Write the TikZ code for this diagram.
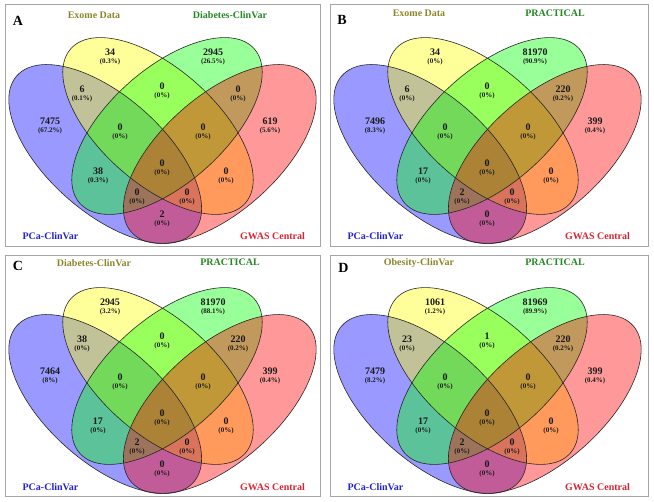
\documentclass[tikz,border=0pt]{standalone}
\usepackage{fontspec}
\setmainfont{Liberation Serif}

\definecolor{vblue}{RGB}{0,0,255}
\definecolor{vyellow}{RGB}{255,255,0}
\definecolor{vgreen}{RGB}{0,255,0}
\definecolor{vred}{RGB}{255,0,0}
\definecolor{lblolive}{RGB}{140,132,40}
\definecolor{lblgreen}{RGB}{35,135,35}
\definecolor{lblblue}{RGB}{35,35,205}
\definecolor{lblred}{RGB}{220,35,50}

\tikzset{every picture/.style={line width=0.75pt}}
\tikzset{
  pcaset/.style={shift={(105.2,154)},rotate=41.5},
  topleftset/.style={shift={(158,126)},rotate=41.5},
  toprightset/.style={shift={(167,126)},rotate=-41.5},
  gwasset/.style={shift={(219.8,154)},rotate=-41.5},
  tint/.style={fill=#1,fill opacity=0.4},
  rim/.style={draw=black!85,line width=0.6pt},
  panelframe/.style={draw=black!35,line width=1pt},
  cnt/.style={inner sep=0pt,align=center,text=black!90,font=\fontsize{10}{8}\selectfont\bfseries},
  setname/.style={inner sep=0pt,font=\fontsize{10}{10}\selectfont\bfseries,text=#1},
  panelletter/.style={inner sep=0pt,font=\fontsize{14}{14}\selectfont\bfseries}
}
\newcommand{\pct}[1]{{\fontsize{7}{7}\selectfont(#1\%)}}

\begin{document}
\begin{tikzpicture}[x=1pt,y=1pt,yscale=-1]
\useasboundingbox (0,0) rectangle (654,502);

%%%%%%%%%%%%%%%%%%%%%%%% Panel A
\begin{scope}
\draw[panelframe] (5,5) rectangle (320,247);
%Shape: Ellipse [id:pca]
\fill[tint=vblue,pcaset] (0,0) ellipse (118 and 58);
%Shape: Ellipse [id:exome]
\fill[tint=vyellow,topleftset] (0,0) ellipse (116.5 and 57.5);
%Shape: Ellipse [id:diabetes]
\fill[tint=vgreen,toprightset] (0,0) ellipse (116.5 and 57.5);
%Shape: Ellipse [id:gwas]
\fill[tint=vred,gwasset] (0,0) ellipse (118 and 58);
\draw[rim,pcaset] (0,0) ellipse (118 and 58);
\draw[rim,topleftset] (0,0) ellipse (116.5 and 57.5);
\draw[rim,toprightset] (0,0) ellipse (116.5 and 57.5);
\draw[rim,gwasset] (0,0) ellipse (118 and 58);

% Text Node
\node[panelletter] (A-tag) at (18,21) {A};
\node[setname=lblolive] (A-lt) at (94,15) {Exome Data};
\node[setname=lblgreen] (A-rt) at (230,15) {Diabetes-ClinVar};
\node[setname=lblblue] (A-lb) at (50.5,236) {PCa-ClinVar};
\node[setname=lblred] (A-rb) at (272.5,236) {GWAS Central};
% Counts
\node[cnt] (A-y) at (110,57) {34\\\pct{0.3}};
\node[cnt] (A-g) at (213,57) {2945\\\pct{26.5}};
\node[cnt] (A-by) at (82,94) {6\\\pct{0.1}};
\node[cnt] (A-yg) at (162,91) {0\\\pct{0}};
\node[cnt] (A-gr) at (238,94) {0\\\pct{0}};
\node[cnt] (A-b) at (50,126) {7475\\\pct{67.2}};
\node[cnt] (A-r) at (270,126) {619\\\pct{5.6}};
\node[cnt] (A-byg) at (120,132) {0\\\pct{0}};
\node[cnt] (A-ygr) at (203,132) {0\\\pct{0}};
\node[cnt] (A-bygr) at (162,168) {0\\\pct{0}};
\node[cnt] (A-bg) at (98,176) {38\\\pct{0.3}};
\node[cnt] (A-yr) at (226,176) {0\\\pct{0}};
\node[cnt] (A-bgr) at (137,197) {0\\\pct{0}};
\node[cnt] (A-byr) at (187,197) {0\\\pct{0}};
\node[cnt] (A-br) at (162,219) {2\\\pct{0}};
\end{scope}

%%%%%%%%%%%%%%%%%%%%%%%% Panel B
\begin{scope}[shift={(325,0)}]
\draw[panelframe] (5.5,5) rectangle (323,247);
%Shape: Ellipse [id:pca]
\fill[tint=vblue,pcaset] (0,0) ellipse (118 and 58);
%Shape: Ellipse [id:exome]
\fill[tint=vyellow,topleftset] (0,0) ellipse (116.5 and 57.5);
%Shape: Ellipse [id:practical]
\fill[tint=vgreen,toprightset] (0,0) ellipse (116.5 and 57.5);
%Shape: Ellipse [id:gwas]
\fill[tint=vred,gwasset] (0,0) ellipse (118 and 58);
\draw[rim,pcaset] (0,0) ellipse (118 and 58);
\draw[rim,topleftset] (0,0) ellipse (116.5 and 57.5);
\draw[rim,toprightset] (0,0) ellipse (116.5 and 57.5);
\draw[rim,gwasset] (0,0) ellipse (118 and 58);

% Text Node
\node[panelletter] (B-tag) at (17,20) {B};
\node[setname=lblolive] (B-lt) at (94,13.5) {Exome Data};
\node[setname=lblgreen] (B-rt) at (230,13.5) {PRACTICAL};
\node[setname=lblblue] (B-lb) at (50.5,236) {PCa-ClinVar};
\node[setname=lblred] (B-rb) at (272.5,236) {GWAS Central};
% Counts
\node[cnt] (B-y) at (110,57) {34\\\pct{0}};
\node[cnt] (B-g) at (210,57) {81970\\\pct{90.9}};
\node[cnt] (B-by) at (82,94) {6\\\pct{0}};
\node[cnt] (B-yg) at (162,91) {0\\\pct{0}};
\node[cnt] (B-gr) at (238,94) {220\\\pct{0.2}};
\node[cnt] (B-b) at (50,126) {7496\\\pct{8.3}};
\node[cnt] (B-r) at (270,126) {399\\\pct{0.4}};
\node[cnt] (B-byg) at (120,132) {0\\\pct{0}};
\node[cnt] (B-ygr) at (203,132) {0\\\pct{0}};
\node[cnt] (B-bygr) at (162,168) {0\\\pct{0}};
\node[cnt] (B-bg) at (98,176) {17\\\pct{0}};
\node[cnt] (B-yr) at (226,176) {0\\\pct{0}};
\node[cnt] (B-bgr) at (137,197) {2\\\pct{0}};
\node[cnt] (B-byr) at (187,197) {0\\\pct{0}};
\node[cnt] (B-br) at (162,219) {0\\\pct{0}};
\end{scope}

%%%%%%%%%%%%%%%%%%%%%%%% Panel C
\begin{scope}[shift={(0,250)}]
\draw[panelframe] (5,6) rectangle (320,247);
%Shape: Ellipse [id:pca]
\fill[tint=vblue,pcaset] (0,0) ellipse (118 and 58);
%Shape: Ellipse [id:diabetes]
\fill[tint=vyellow,topleftset] (0,0) ellipse (116.5 and 57.5);
%Shape: Ellipse [id:practical]
\fill[tint=vgreen,toprightset] (0,0) ellipse (116.5 and 57.5);
%Shape: Ellipse [id:gwas]
\fill[tint=vred,gwasset] (0,0) ellipse (118 and 58);
\draw[rim,pcaset] (0,0) ellipse (118 and 58);
\draw[rim,topleftset] (0,0) ellipse (116.5 and 57.5);
\draw[rim,toprightset] (0,0) ellipse (116.5 and 57.5);
\draw[rim,gwasset] (0,0) ellipse (118 and 58);

% Text Node
\node[panelletter] (C-tag) at (18,16) {C};
\node[setname=lblolive] (C-lt) at (94,12.7) {Diabetes-ClinVar};
\node[setname=lblgreen] (C-rt) at (230,12.7) {PRACTICAL};
\node[setname=lblblue] (C-lb) at (50.5,237) {PCa-ClinVar};
\node[setname=lblred] (C-rb) at (272.5,237) {GWAS Central};
% Counts
\node[cnt] (C-y) at (110,57) {2945\\\pct{3.2}};
\node[cnt] (C-g) at (213,57) {81970\\\pct{88.1}};
\node[cnt] (C-by) at (82,94) {38\\\pct{0}};
\node[cnt] (C-yg) at (162,91) {0\\\pct{0}};
\node[cnt] (C-gr) at (238,94) {220\\\pct{0.2}};
\node[cnt] (C-b) at (50,126) {7464\\\pct{8}};
\node[cnt] (C-r) at (270,126) {399\\\pct{0.4}};
\node[cnt] (C-byg) at (120,132) {0\\\pct{0}};
\node[cnt] (C-ygr) at (203,132) {0\\\pct{0}};
\node[cnt] (C-bygr) at (162,168) {0\\\pct{0}};
\node[cnt] (C-bg) at (98,176) {17\\\pct{0}};
\node[cnt] (C-yr) at (226,176) {0\\\pct{0}};
\node[cnt] (C-bgr) at (137,197) {2\\\pct{0}};
\node[cnt] (C-byr) at (187,197) {0\\\pct{0}};
\node[cnt] (C-br) at (162,219) {0\\\pct{0}};
\end{scope}

%%%%%%%%%%%%%%%%%%%%%%%% Panel D
\begin{scope}[shift={(325,250)}]
\draw[panelframe] (5.5,6) rectangle (323,247);
%Shape: Ellipse [id:pca]
\fill[tint=vblue,pcaset] (0,0) ellipse (118 and 58);
%Shape: Ellipse [id:obesity]
\fill[tint=vyellow,topleftset] (0,0) ellipse (116.5 and 57.5);
%Shape: Ellipse [id:practical]
\fill[tint=vgreen,toprightset] (0,0) ellipse (116.5 and 57.5);
%Shape: Ellipse [id:gwas]
\fill[tint=vred,gwasset] (0,0) ellipse (118 and 58);
\draw[rim,pcaset] (0,0) ellipse (118 and 58);
\draw[rim,topleftset] (0,0) ellipse (116.5 and 57.5);
\draw[rim,toprightset] (0,0) ellipse (116.5 and 57.5);
\draw[rim,gwasset] (0,0) ellipse (118 and 58);

% Text Node
\node[panelletter] (D-tag) at (18.5,18) {D};
\node[setname=lblolive] (D-lt) at (94,12.7) {Obesity-ClinVar};
\node[setname=lblgreen] (D-rt) at (230,12.7) {PRACTICAL};
\node[setname=lblblue] (D-lb) at (50.5,237) {PCa-ClinVar};
\node[setname=lblred] (D-rb) at (272.5,237) {GWAS Central};
% Counts
\node[cnt] (D-y) at (110,57) {1061\\\pct{1.2}};
\node[cnt] (D-g) at (210,57) {81969\\\pct{89.9}};
\node[cnt] (D-by) at (82,94) {23\\\pct{0}};
\node[cnt] (D-yg) at (162,91) {1\\\pct{0}};
\node[cnt] (D-gr) at (238,94) {220\\\pct{0.2}};
\node[cnt] (D-b) at (50,126) {7479\\\pct{8.2}};
\node[cnt] (D-r) at (270,126) {399\\\pct{0.4}};
\node[cnt] (D-byg) at (120,132) {0\\\pct{0}};
\node[cnt] (D-ygr) at (203,132) {0\\\pct{0}};
\node[cnt] (D-bygr) at (162,168) {0\\\pct{0}};
\node[cnt] (D-bg) at (98,176) {17\\\pct{0}};
\node[cnt] (D-yr) at (226,176) {0\\\pct{0}};
\node[cnt] (D-bgr) at (137,197) {2\\\pct{0}};
\node[cnt] (D-byr) at (187,197) {0\\\pct{0}};
\node[cnt] (D-br) at (162,219) {0\\\pct{0}};
\end{scope}

\end{tikzpicture}
\end{document}
